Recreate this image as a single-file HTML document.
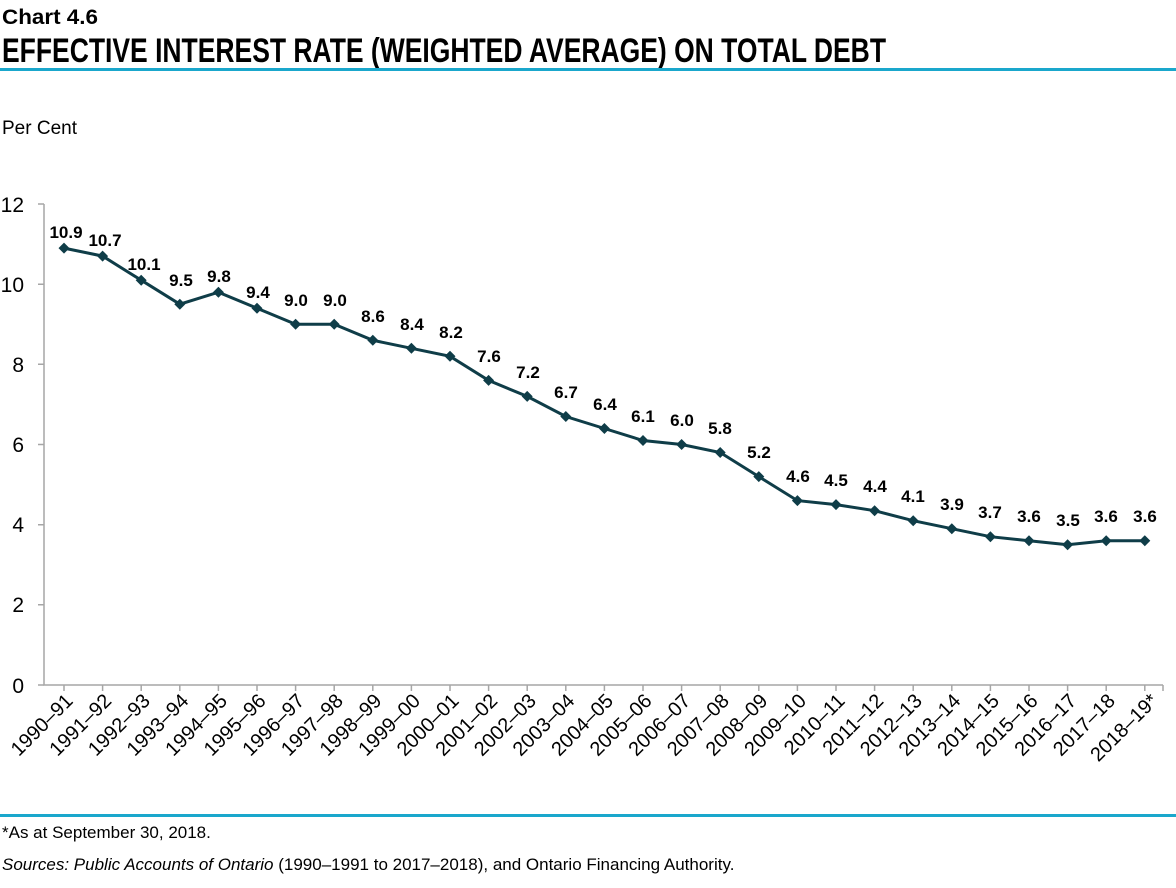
<!DOCTYPE html>
<html><head><meta charset="utf-8"><style>
body{margin:0;background:#fff;width:1176px;height:888px;overflow:hidden}
svg{display:block;font-family:"Liberation Sans",Arial,sans-serif}
.l{font-size:17px;font-weight:bold;text-anchor:middle;fill:#000}
.x{font-size:20px;text-anchor:end;fill:#000}
.y{font-size:21px;text-anchor:end;fill:#000}
</style></head><body>
<svg width="1176" height="888" viewBox="0 0 1176 888">
<text x="2" y="24" font-size="21" font-weight="bold" textLength="96" lengthAdjust="spacingAndGlyphs">Chart 4.6</text>
<text x="2" y="62" font-size="34" font-weight="bold" textLength="884" lengthAdjust="spacingAndGlyphs">EFFECTIVE INTEREST RATE (WEIGHTED AVERAGE) ON TOTAL DEBT</text>
<rect x="0" y="68" width="1176" height="3" fill="#1aa7cc"/>
<text x="2" y="134" font-size="19">Per Cent</text>
<g stroke="#a6a6a6" stroke-width="1.5" fill="none">
<path d="M44 204V685H1163"/>
<path d="M38 204H44M38 284.2H44M38 364.3H44M38 444.5H44M38 524.7H44M38 604.8H44M38 685H44"/>
<path d="M64 685v6M102.6 685v6M141.2 685v6M179.8 685v6M218.4 685v6M257 685v6M295.6 685v6M334.2 685v6M372.8 685v6M411.4 685v6M450 685v6M488.6 685v6M527.2 685v6M565.8 685v6M604.4 685v6M643 685v6M681.6 685v6M720.2 685v6M758.8 685v6M797.4 685v6M836 685v6M874.6 685v6M913.2 685v6M951.8 685v6M990.4 685v6M1029 685v6M1067.6 685v6M1106.2 685v6M1144.8 685v6M1163 685v6"/>
</g>
<text class="y" x="24" y="212">12</text><text class="y" x="24" y="292">10</text><text class="y" x="24" y="372">8</text><text class="y" x="24" y="452">6</text><text class="y" x="24" y="532">4</text><text class="y" x="24" y="612">2</text><text class="y" x="24" y="693">0</text>
<polyline fill="none" stroke="#0f3d48" stroke-width="3" points="64,248.1 102.6,256.1 141.2,280.2 179.8,304.2 218.4,292.2 257,308.2 295.6,324.3 334.2,324.3 372.8,340.3 411.4,348.3 450,356.3 488.6,380.4 527.2,396.4 565.8,416.5 604.4,428.5 643,440.5 681.6,444.5 720.2,452.5 758.8,476.6 797.4,500.6 836,504.6 874.6,510.7 913.2,520.7 951.8,528.7 990.4,536.7 1029,540.7 1067.6,544.7 1106.2,540.7 1144.8,540.7"/>
<g fill="#0f3d48">
<path d="M0-5.5L5.5 0 0 5.5-5.5 0Z" transform="translate(64,248.1)"/><path d="M0-5.5L5.5 0 0 5.5-5.5 0Z" transform="translate(102.6,256.1)"/><path d="M0-5.5L5.5 0 0 5.5-5.5 0Z" transform="translate(141.2,280.2)"/><path d="M0-5.5L5.5 0 0 5.5-5.5 0Z" transform="translate(179.8,304.2)"/><path d="M0-5.5L5.5 0 0 5.5-5.5 0Z" transform="translate(218.4,292.2)"/><path d="M0-5.5L5.5 0 0 5.5-5.5 0Z" transform="translate(257,308.2)"/><path d="M0-5.5L5.5 0 0 5.5-5.5 0Z" transform="translate(295.6,324.3)"/><path d="M0-5.5L5.5 0 0 5.5-5.5 0Z" transform="translate(334.2,324.3)"/><path d="M0-5.5L5.5 0 0 5.5-5.5 0Z" transform="translate(372.8,340.3)"/><path d="M0-5.5L5.5 0 0 5.5-5.5 0Z" transform="translate(411.4,348.3)"/><path d="M0-5.5L5.5 0 0 5.5-5.5 0Z" transform="translate(450,356.3)"/><path d="M0-5.5L5.5 0 0 5.5-5.5 0Z" transform="translate(488.6,380.4)"/><path d="M0-5.5L5.5 0 0 5.5-5.5 0Z" transform="translate(527.2,396.4)"/><path d="M0-5.5L5.5 0 0 5.5-5.5 0Z" transform="translate(565.8,416.5)"/><path d="M0-5.5L5.5 0 0 5.5-5.5 0Z" transform="translate(604.4,428.5)"/><path d="M0-5.5L5.5 0 0 5.5-5.5 0Z" transform="translate(643,440.5)"/><path d="M0-5.5L5.5 0 0 5.5-5.5 0Z" transform="translate(681.6,444.5)"/><path d="M0-5.5L5.5 0 0 5.5-5.5 0Z" transform="translate(720.2,452.5)"/><path d="M0-5.5L5.5 0 0 5.5-5.5 0Z" transform="translate(758.8,476.6)"/><path d="M0-5.5L5.5 0 0 5.5-5.5 0Z" transform="translate(797.4,500.6)"/><path d="M0-5.5L5.5 0 0 5.5-5.5 0Z" transform="translate(836,504.6)"/><path d="M0-5.5L5.5 0 0 5.5-5.5 0Z" transform="translate(874.6,510.7)"/><path d="M0-5.5L5.5 0 0 5.5-5.5 0Z" transform="translate(913.2,520.7)"/><path d="M0-5.5L5.5 0 0 5.5-5.5 0Z" transform="translate(951.8,528.7)"/><path d="M0-5.5L5.5 0 0 5.5-5.5 0Z" transform="translate(990.4,536.7)"/><path d="M0-5.5L5.5 0 0 5.5-5.5 0Z" transform="translate(1029,540.7)"/><path d="M0-5.5L5.5 0 0 5.5-5.5 0Z" transform="translate(1067.6,544.7)"/><path d="M0-5.5L5.5 0 0 5.5-5.5 0Z" transform="translate(1106.2,540.7)"/><path d="M0-5.5L5.5 0 0 5.5-5.5 0Z" transform="translate(1144.8,540.7)"/>
</g>
<g>
<text class="l" x="66" y="238">10.9</text><text class="l" x="105" y="246">10.7</text><text class="l" x="144" y="270">10.1</text><text class="l" x="181" y="286">9.5</text><text class="l" x="219" y="282">9.8</text><text class="l" x="258" y="298">9.4</text><text class="l" x="296" y="306">9.0</text><text class="l" x="335" y="306">9.0</text><text class="l" x="373" y="322">8.6</text><text class="l" x="412" y="330">8.4</text><text class="l" x="451" y="338">8.2</text><text class="l" x="489" y="362">7.6</text><text class="l" x="528" y="378">7.2</text><text class="l" x="566" y="398">6.7</text><text class="l" x="605" y="410">6.4</text><text class="l" x="643" y="422">6.1</text><text class="l" x="682" y="426">6.0</text><text class="l" x="720" y="434">5.8</text><text class="l" x="759" y="458">5.2</text><text class="l" x="798" y="482">4.6</text><text class="l" x="836" y="486">4.5</text><text class="l" x="875" y="492">4.4</text><text class="l" x="913" y="502">4.1</text><text class="l" x="952" y="510">3.9</text><text class="l" x="990" y="518">3.7</text><text class="l" x="1029" y="522">3.6</text><text class="l" x="1068" y="526">3.5</text><text class="l" x="1106" y="522">3.6</text><text class="l" x="1145" y="522">3.6</text>
</g>
<g>
<text class="x" transform="translate(74,702) rotate(-45)">1990–91</text><text class="x" transform="translate(112.6,702) rotate(-45)">1991–92</text><text class="x" transform="translate(151.2,702) rotate(-45)">1992–93</text><text class="x" transform="translate(189.8,702) rotate(-45)">1993–94</text><text class="x" transform="translate(228.4,702) rotate(-45)">1994–95</text><text class="x" transform="translate(267,702) rotate(-45)">1995–96</text><text class="x" transform="translate(305.6,702) rotate(-45)">1996–97</text><text class="x" transform="translate(344.2,702) rotate(-45)">1997–98</text><text class="x" transform="translate(382.8,702) rotate(-45)">1998–99</text><text class="x" transform="translate(421.4,702) rotate(-45)">1999–00</text><text class="x" transform="translate(460,702) rotate(-45)">2000–01</text><text class="x" transform="translate(498.6,702) rotate(-45)">2001–02</text><text class="x" transform="translate(537.2,702) rotate(-45)">2002–03</text><text class="x" transform="translate(575.8,702) rotate(-45)">2003–04</text><text class="x" transform="translate(614.4,702) rotate(-45)">2004–05</text><text class="x" transform="translate(653,702) rotate(-45)">2005–06</text><text class="x" transform="translate(691.6,702) rotate(-45)">2006–07</text><text class="x" transform="translate(730.2,702) rotate(-45)">2007–08</text><text class="x" transform="translate(768.8,702) rotate(-45)">2008–09</text><text class="x" transform="translate(807.4,702) rotate(-45)">2009–10</text><text class="x" transform="translate(846,702) rotate(-45)">2010–11</text><text class="x" transform="translate(884.6,702) rotate(-45)">2011–12</text><text class="x" transform="translate(923.2,702) rotate(-45)">2012–13</text><text class="x" transform="translate(961.8,702) rotate(-45)">2013–14</text><text class="x" transform="translate(1000.4,702) rotate(-45)">2014–15</text><text class="x" transform="translate(1039,702) rotate(-45)">2015–16</text><text class="x" transform="translate(1077.6,702) rotate(-45)">2016–17</text><text class="x" transform="translate(1116.2,702) rotate(-45)">2017–18</text><text class="x" transform="translate(1159,702) rotate(-45)">2018–19*</text>
</g>
<rect x="0" y="814" width="1176" height="3" fill="#1aa7cc"/>
<text x="2" y="838" font-size="17">*As at September 30, 2018.</text>
<text x="2" y="870" font-size="17"><tspan font-style="italic">Sources: Public Accounts of Ontario</tspan> (1990–1991 to 2017–2018), and Ontario Financing Authority.</text>
</svg>
</body></html>
